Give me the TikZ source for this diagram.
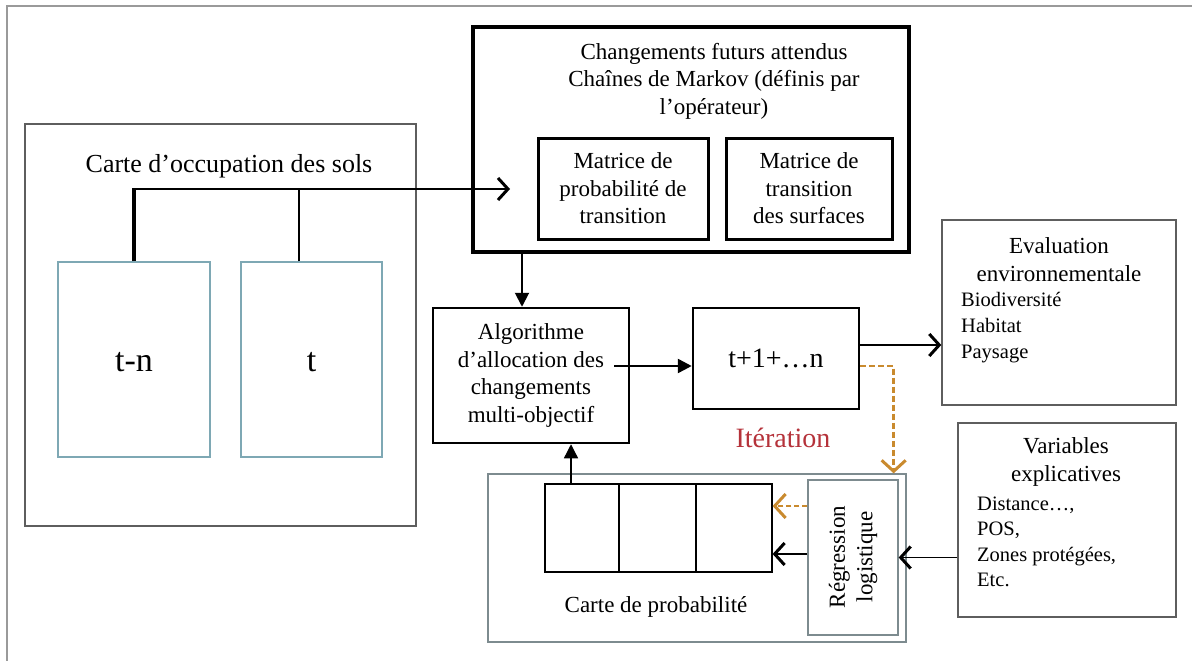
\documentclass[tikz,border=0pt]{standalone}
\usepackage{fontspec}
\setmainfont{Liberation Serif}
\usetikzlibrary{arrows.meta}
\definecolor{framegray}{HTML}{9A9A9A}
\definecolor{boxgray}{HTML}{5E5E5E}
\definecolor{mapteal}{HTML}{7EA8B4}
\definecolor{probgray}{HTML}{7D8B8F}
\definecolor{dashorange}{HTML}{C98A2E}
\definecolor{iterred}{HTML}{B5323A}
\tikzset{
  every node/.style={font=\fontsize{23}{27.5}\selectfont, inner sep=0pt},
  box/.style={draw, inner sep=0pt, align=center},
  thickbox/.style={box, line width=4pt},
  matbox/.style={box, line width=3pt},
  algbox/.style={box, line width=2.5pt},
  graybox/.style={box, draw=boxgray, line width=1.4pt},
  mapbox/.style={box, draw=mapteal, line width=1.3pt},
  probbox/.style={box, draw=probgray, line width=1.3pt},
  cellbox/.style={box, line width=1.2pt},
  itemfont/.style={font=\fontsize{20.5}{26}\selectfont, align=left, anchor=west},
  chev/.style={-{Straight Barb[length=10pt,width=22pt,line width=3pt]}},
  tri/.style={-{Triangle[length=14pt,width=14pt]}},
  ochev/.style={-{Straight Barb[length=11pt,width=24pt,line width=3pt,color=dashorange]}},
}
\begin{document}
\begin{tikzpicture}[x=1pt,y=-1pt]
\useasboundingbox (0,0) rectangle (1192,661);
% outer frame (top and left lines)
\draw[framegray, line width=1.2pt] (7,661) -- (7,6) -- (1192,6);

% land use map
\node[graybox, minimum width=391pt, minimum height=402pt] (land) at (220.5,325) {};
\node[font=\fontsize{26}{30}\selectfont] (landtitle) at (229,166) {Carte d’occupation des sols};
\node[mapbox, minimum width=152pt, minimum height=195pt] (tn) at (134,359.5) {};
\node[mapbox, minimum width=141pt, minimum height=195pt] (t) at (311.5,359.5) {};
\node[font=\fontsize{34}{40}\selectfont] (tntext) at (134,362) {t-n};
\node[font=\fontsize{34}{40}\selectfont] (ttext) at (311.5,362) {t};

% Markov box
\node[thickbox, minimum width=436pt, minimum height=225pt] (markov) at (691,139.5) {};
\node[align=center] (mktitle) at (714,81) {Changements futurs attendus\\Chaînes de Markov (définis par\\l’opérateur)};
\node[matbox, minimum width=170pt, minimum height=101pt] (mat1) at (623,188.5) {Matrice de\\probabilité de\\transition};
\node[matbox, minimum width=166pt, minimum height=101pt] (mat2) at (809,188.5) {Matrice de\\transition\\des surfaces};
\coordinate (mkin) at (510,189);

% algorithm and t+1
\node[algbox, minimum width=196pt, minimum height=135pt] (algo) at (531,375.5) {Algorithme\\d’allocation des\\changements\\multi-objectif};
\node[algbox, minimum width=166pt, minimum height=101pt, font=\fontsize{28}{32}\selectfont] (tp1) at (776,358.5) {t+1+…n};
\node[text=iterred, font=\fontsize{28}{32}\selectfont] (iter) at (783,438) {Itération};

% evaluation
\node[graybox, minimum width=234pt, minimum height=185pt] (eval) at (1059,312.5) {};
\node[align=center] (evaltitle) at (1059,259.5) {Evaluation\\environnementale};
\node[itemfont] (evalitems) at (961,328) {Biodiversité\\Habitat\\Paysage};

% variables
\node[graybox, minimum width=218pt, minimum height=194pt] (var) at (1067,520) {};
\node[align=center] (vartitle) at (1066,462) {Variables\\explicatives};
\node[itemfont, font=\fontsize{20.5}{25.5}\selectfont] (varitems) at (977,542) {Distance…,\\POS,\\Zones protégées,\\Etc.};

% probability map
\node[probbox, minimum width=418pt, minimum height=168pt] (prob) at (697,558) {};
\node[probbox, minimum width=90pt, minimum height=155pt] (reg) at (853,557.5) {};
\node[rotate=90, align=center] (regtext) at (853,557) {Régression\\logistique};
\node[cellbox, minimum width=74pt, minimum height=88pt] (c1) at (582,528) {};
\node[cellbox, minimum width=77pt, minimum height=88pt] (c2) at (657.5,528) {};
\node[cellbox, minimum width=76pt, minimum height=88pt] (c3) at (734,528) {};
\node (problabel) at (656,607) {Carte de probabilité};

% connectors
\draw[line width=3.5pt] (tn.north) -- (tn.north |- mkin);
\draw[line width=2.5pt] ([xshift=-12.5pt]t.north) -- ([xshift=-12.5pt]t.north |- mkin);
\draw[line width=2.5pt, chev] ([xshift=-1.75pt]tn.north |- mkin) -- (mkin);

\draw[line width=2pt, tri] ([xshift=-169pt]markov.south) -- ([xshift=-169pt]markov.south |- algo.north);

\coordinate (algout) at (614,366);
\draw[line width=2.5pt, tri] (algout) -- (algout -| tp1.west);

\draw[line width=1.3pt, chev] ([yshift=13.5pt]tp1.east) -- ([yshift=13.5pt]tp1.east -| eval.west);

\draw[line width=1.3pt, chev] ([yshift=-37.5pt]var.west) -- ([yshift=-37.5pt]var.west -| reg.east);

\draw[line width=1.2pt, chev] ([yshift=3.5pt]reg.west) -- ([yshift=3.5pt]reg.west -| c3.east);
\draw[dashorange, line width=1.2pt, dash pattern=on 5pt off 3pt, ochev] ([yshift=51.5pt]reg.west) -- ([yshift=51.5pt]reg.west -| c3.east);

\draw[dashorange, line width=2.5pt, dash pattern=on 6pt off 3pt, ochev] ([yshift=-7.5pt]tp1.east) -| ([xshift=-13pt]prob.north east);

\draw[line width=1.3pt, tri] ([xshift=-11pt]c1.north) -- ([xshift=-11pt]c1.north |- algo.south);
\end{tikzpicture}
\end{document}
